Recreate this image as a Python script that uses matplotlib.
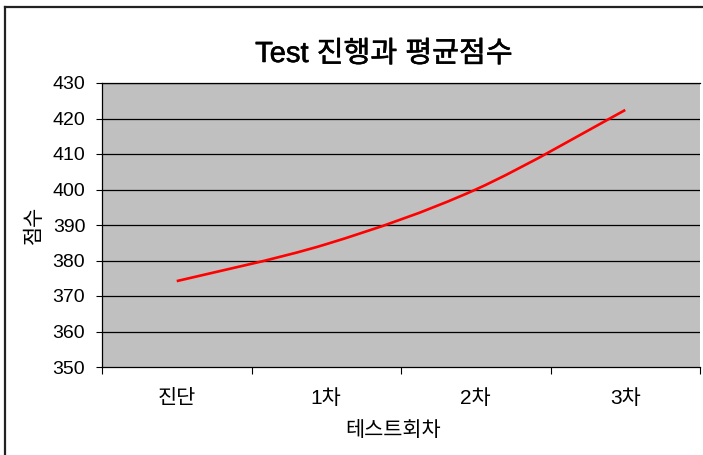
import matplotlib
matplotlib.use('Agg')
from matplotlib import pyplot as plt
from matplotlib import patheffects
from matplotlib.path import Path
from matplotlib.patches import PathPatch
from matplotlib.lines import Line2D

categories = ['진단', '1차', '2차', '3차']
scores = [374.2, 384.6, 400.0, 422.4]
y_ticks = [350, 360, 370, 380, 390, 400, 410, 420, 430]

title = 'Test 진행과 평균점수'
x_label = '테스트회차'
y_label = '점수'

plt.rcParams['font.family'] = ['Liberation Sans', 'Noto Sans CJK KR']

fig = plt.figure(figsize=(7.03, 4.55), dpi=100)
ax = fig.add_axes([102 / 703, 1 - 367 / 455, (700 - 102) / 703, (367 - 83) / 455])
ax.set_facecolor('#c0c0c0')

# smoothed line like the spreadsheet one (cubic bezier through the points)
xs = list(range(len(scores)))
pts = list(zip(xs, scores))
verts = [pts[0]]
codes = [Path.MOVETO]
for i in range(len(pts) - 1):
    p0 = pts[i - 1] if i > 0 else pts[i]
    p1 = pts[i]
    p2 = pts[i + 1]
    p3 = pts[i + 2] if i + 2 < len(pts) else pts[i + 1]
    c1 = (p1[0] + (p2[0] - p0[0]) / 6, p1[1] + (p2[1] - p0[1]) / 6)
    c2 = (p2[0] - (p3[0] - p1[0]) / 6, p2[1] - (p3[1] - p1[1]) / 6)
    verts += [c1, c2, p2]
    codes += [Path.CURVE4] * 3
ax.add_patch(PathPatch(Path(verts, codes), facecolor='none', edgecolor='red', lw=1.9, zorder=3))

ax.set_xlim(-0.5, len(categories) - 0.5)
ax.set_ylim(y_ticks[0], y_ticks[-1])
ax.set_yticks(y_ticks)
ax.set_yticklabels([str(v) for v in y_ticks], fontsize=14)
ax.set_xticks(xs)
ax.set_xticklabels(categories, fontsize=15)
ax.set_xticks([i - 0.5 for i in range(len(categories) + 1)], minor=True)
ax.tick_params(axis='x', which='major', length=0, pad=16)
ax.tick_params(axis='x', which='minor', length=5, width=0.8, direction='out')
ax.tick_params(axis='y', length=4, width=0.8, direction='out', pad=8)

for v in y_ticks[1:]:
    ax.axhline(v, color='black', lw=0.9, zorder=1)

for s in ['left', 'bottom', 'top']:
    ax.spines[s].set_color('black')
    ax.spines[s].set_linewidth(0.9)
ax.spines['right'].set_visible(False)

ax.set_xlabel(x_label, fontsize=15)
ax.set_ylabel(y_label, fontsize=15)
ax.xaxis.set_label_coords((393 - 102) / 598, -(430 - 367) / 284)
ax.yaxis.set_label_coords(-(102 - 34) / 598, 0.5)
ax.xaxis.label.set_va('center')
ax.yaxis.label.set_va('center')

t = fig.text(384 / 703, 1 - 54 / 455, title, fontsize=21, ha='center', va='center')
t.set_path_effects([patheffects.withStroke(linewidth=0.4, foreground='black')])

# outer chart frame
fig.add_artist(Line2D([5 / 703, 1], [1 - 7 / 455, 1 - 7 / 455], color='#222222', lw=1.6, transform=fig.transFigure))
fig.add_artist(Line2D([5 / 703, 5 / 703], [0, 1 - 7 / 455], color='#222222', lw=1.6, transform=fig.transFigure))

fig.savefig('out.png', dpi=100)
